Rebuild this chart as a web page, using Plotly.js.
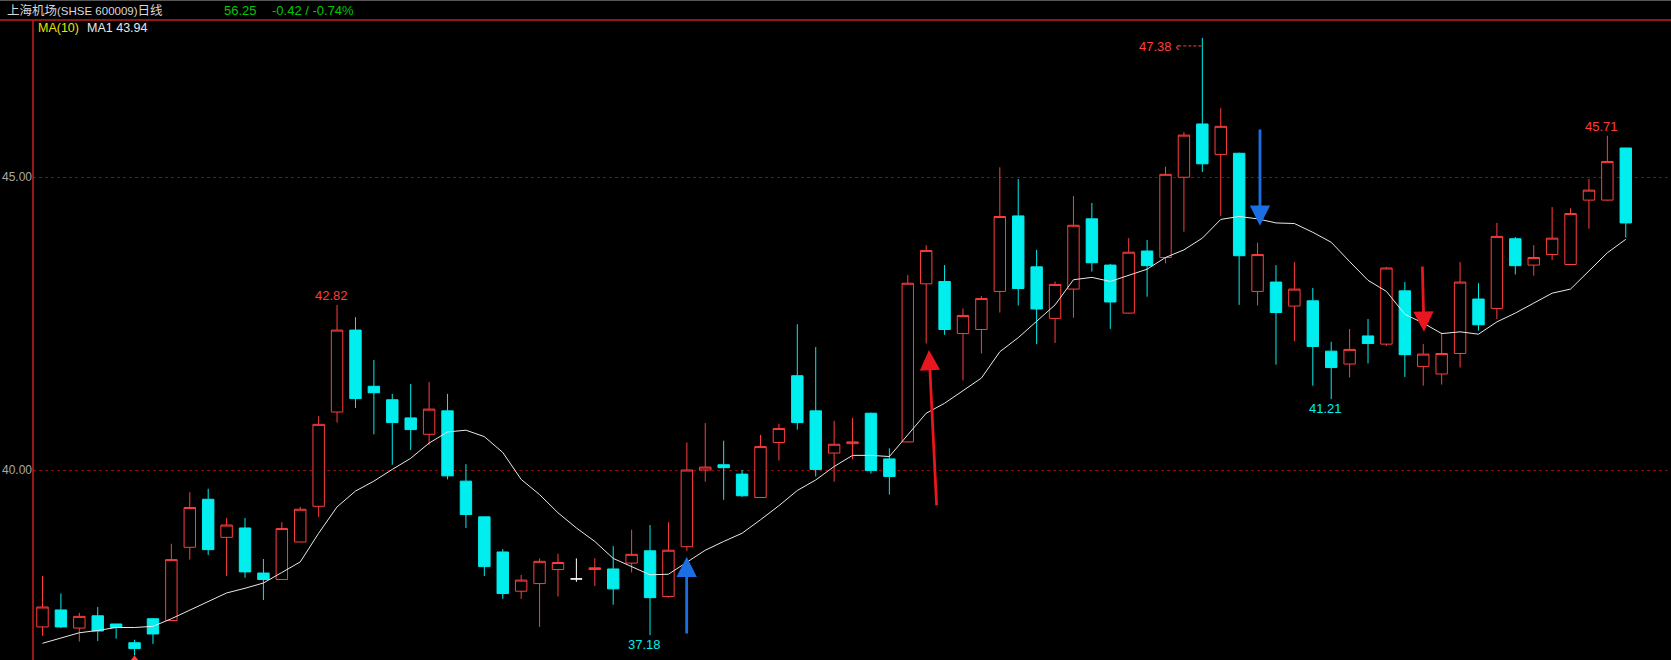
<!DOCTYPE html>
<html>
<head>
<meta charset="utf-8">
<script src="https://cdn.plot.ly/plotly-3.0.1.min.js"></script>
<style>
html,body{margin:0;padding:0;background:#000;overflow:hidden;}
#chart{width:1671px;height:660px;}
</style>
</head>
<body>
<div id="chart"></div>
<script>
// ---- Data (daily candles, 上海机场 600009) ----
const opens  = [37.32,37.61,37.30,37.51,37.37,37.05,37.46,37.43,38.68,39.50,38.85,39.01,38.24,38.13,38.77,39.38,40.99,42.39,41.43,41.20,40.89,40.61,41.01,39.81,39.20,38.60,37.93,38.06,38.30,38.14,38.30,38.31,38.41,38.62,37.84,38.69,40.00,40.09,39.93,39.53,40.47,41.61,41.01,40.29,40.45,40.97,40.19,40.48,43.18,43.22,42.33,42.40,43.05,44.34,43.47,42.59,43.09,44.29,43.50,42.68,43.74,43.63,45.00,45.91,45.39,45.41,43.05,43.21,42.80,42.89,42.03,41.81,42.29,42.15,43.06,41.77,41.64,41.99,42.92,42.76,43.95,43.50,43.68,43.51,44.61,44.61,45.50];
const highs  = [38.19,37.89,37.56,37.66,37.37,37.10,37.47,38.74,39.62,39.68,39.18,39.18,38.48,39.11,39.37,40.92,42.82,42.61,41.88,41.30,41.47,41.50,41.30,40.10,39.20,38.65,38.21,38.49,38.57,38.49,38.49,38.70,38.98,39.06,39.11,40.47,40.80,40.50,40.00,40.60,40.79,42.49,42.10,40.84,40.89,40.98,40.37,43.33,43.84,43.50,42.76,42.97,45.17,44.97,43.76,43.22,44.68,44.56,43.52,43.96,43.93,45.18,45.77,47.38,46.18,45.42,43.88,43.50,43.55,43.11,42.19,42.41,42.58,43.47,43.21,42.15,42.35,43.55,43.19,44.22,43.98,43.84,44.49,44.47,44.97,45.71,45.50];
const lows   = [37.17,37.30,37.07,37.08,37.12,36.83,37.03,37.43,38.47,38.55,38.19,38.16,37.78,38.13,38.77,39.20,40.81,41.06,40.61,40.09,40.34,40.43,39.84,39.01,38.19,37.80,37.80,37.32,37.84,38.09,38.02,37.70,38.25,37.18,37.82,38.62,39.80,39.49,39.54,39.53,40.16,40.69,39.89,39.80,40.18,39.94,39.58,40.47,42.16,42.31,41.53,41.99,42.69,42.81,42.15,42.17,42.60,43.39,42.41,42.67,42.96,43.53,44.07,45.09,44.34,42.82,42.81,41.80,42.20,41.44,41.21,41.58,41.82,42.12,41.59,41.44,41.46,41.75,42.38,42.58,43.34,43.32,43.59,43.51,44.12,44.60,43.97];
const closes = [37.66,37.32,37.50,37.25,37.31,36.95,37.20,38.47,39.36,38.64,39.06,38.26,38.13,39.00,39.33,40.78,42.39,41.22,41.32,40.81,40.69,41.04,39.90,39.24,38.35,37.89,38.12,38.44,38.42,38.14,38.33,37.97,38.56,37.82,38.63,40.00,40.05,40.04,39.56,40.40,40.71,40.81,40.01,40.44,40.48,39.99,39.89,43.19,43.75,42.40,42.64,42.93,44.33,43.10,42.75,43.17,44.18,43.54,42.87,43.72,43.49,45.05,45.72,45.23,45.87,43.66,43.68,42.69,43.09,42.11,41.75,42.06,42.16,43.45,41.97,41.98,41.99,43.21,42.48,43.99,43.49,43.63,43.96,44.38,44.78,45.27,44.22];
const ma10   = [37.04,37.13,37.22,37.26,37.31,37.31,37.33,37.46,37.61,37.75,37.90,37.98,38.07,38.25,38.43,38.92,39.37,39.64,39.81,40.01,40.20,40.46,40.65,40.68,40.57,40.30,39.84,39.58,39.27,39.01,38.78,38.49,38.35,38.21,38.22,38.43,38.63,38.78,38.92,39.15,39.39,39.65,39.83,40.06,40.25,40.25,40.23,40.60,40.97,41.14,41.35,41.57,42.02,42.26,42.54,42.82,43.25,43.29,43.22,43.33,43.43,43.63,43.76,43.96,44.28,44.33,44.29,44.22,44.21,44.06,43.89,43.56,43.24,43.05,42.66,42.51,42.33,42.36,42.32,42.53,42.68,42.85,43.02,43.09,43.40,43.71,43.94];

// labelled extremes (candle index)
const highLabelIdx = [16, 85];
const lowLabelIdx  = [33, 70];
const peakIdx      = 63;
const bottomMarkIdx = 5;

// signal arrows: candle position and price at tail / tip
const sigTailX = [34.99, 48.57, 66.13, 74.95];
const sigTipX  = [34.99, 48.15, 66.13, 75.04];
const sigTailY = [37.18, 39.37, 45.84, 43.50];
const sigTipY  = [38.52, 42.05, 44.17, 42.36];
const sigKind  = ['blue', 'red', 'blue', 'red'];

// header texts
const stockTitle = ['上海机场', '(SHSE 600009)', '日线'];
const lastPrice = '56.25';
const priceChange = '-0.42 / -0.74%';
const maName = 'MA(10)';
const maLabel = 'MA1';

const yTickVals = [40, 45];
const yTickText = ['40.00', '45.00'];

// ---- styling ----
const RED = '#ff3d3d';
const CYAN = '#00eeee';
const FONT = '"Liberation Sans", Arial, "Noto Sans CJK SC", sans-serif';
const W = 1671, H = 660, ML = 33, MT = 20;
const PW = W - ML, PH = H - MT;
const px = x => (x - ML) / PW;
const py = y => (H - y) / PH;

const idx = opens.map((_, i) => i);
const isDoji = i => opens[i] === closes[i];
const bodyIdx = idx.filter(i => !isDoji(i));
const dojiIdx = idx.filter(isDoji);
const sel = (arr, ids) => ids.map(i => arr[i]);

const traces = [
  {
    type: 'candlestick',
    x: bodyIdx, open: sel(opens, bodyIdx), high: sel(highs, bodyIdx),
    low: sel(lows, bodyIdx), close: sel(closes, bodyIdx),
    increasing: {line: {color: RED, width: 1}, fillcolor: '#000000'},
    decreasing: {line: {color: CYAN, width: 1}, fillcolor: CYAN},
    whiskerwidth: 0, hoverinfo: 'skip', showlegend: false
  },
  {
    type: 'candlestick',
    x: dojiIdx, open: sel(opens, dojiIdx), high: sel(highs, dojiIdx),
    low: sel(lows, dojiIdx), close: sel(closes, dojiIdx),
    increasing: {line: {color: '#ffffff', width: 1}, fillcolor: '#000000'},
    decreasing: {line: {color: '#ffffff', width: 1}, fillcolor: '#ffffff'},
    whiskerwidth: 0, hoverinfo: 'skip', showlegend: false
  },
  {
    type: 'scatter', mode: 'lines', x: idx, y: ma10,
    line: {color: '#e8e8e8', width: 1}, hoverinfo: 'skip', showlegend: false
  }
];

const annotations = [];
highLabelIdx.forEach(i => annotations.push({
  x: i, y: highs[i], xref: 'x', yref: 'y', text: highs[i].toFixed(2), showarrow: false,
  xanchor: 'center', yanchor: 'bottom', xshift: -6, yshift: 0,
  font: {family: FONT, size: 13, color: RED}
}));
lowLabelIdx.forEach(i => annotations.push({
  x: i, y: lows[i], xref: 'x', yref: 'y', text: lows[i].toFixed(2), showarrow: false,
  xanchor: 'center', yanchor: 'top', xshift: -6, yshift: 0,
  font: {family: FONT, size: 13, color: CYAN}
}));
annotations.push({
  x: peakIdx, y: highs[peakIdx], xref: 'x', yref: 'y', text: highs[peakIdx].toFixed(2) + ' ‹',
  showarrow: false, xanchor: 'right', yanchor: 'middle', xshift: -21, yshift: -9,
  font: {family: FONT, size: 13, color: RED}
});
sigKind.forEach((k, j) => annotations.push({
  x: sigTipX[j], y: sigTipY[j], ax: sigTailX[j], ay: sigTailY[j],
  xref: 'x', yref: 'y', axref: 'x', ayref: 'y', text: '', showarrow: true,
  arrowhead: 2, arrowsize: 1.45, arrowwidth: 2.8,
  arrowcolor: k === 'blue' ? '#1a6fe3' : '#e8161e', font: {size: 1}
}));

// header
const hdr = (x, y, text, color, size) => ({
  x: px(x), y: py(y), xref: 'paper', yref: 'paper', text, showarrow: false,
  xanchor: 'left', yanchor: 'middle', font: {family: FONT, size, color}
});
annotations.push(hdr(5, 10, stockTitle[0] + '<span style="font-size:11.5px">' + stockTitle[1] + '</span>' + stockTitle[2], '#d8d8d8', 12.5));
annotations.push(hdr(222, 10, lastPrice, '#00c800', 13));
annotations.push(hdr(270, 10, priceChange, '#00c800', 13));
annotations.push(hdr(36, 28, maName, '#e6e600', 12.5));
annotations.push(hdr(85, 28, maLabel + ' ' + ma10[ma10.length - 1].toFixed(2), '#e8e8e8', 12.5));

const shapes = [
  {type: 'line', xref: 'paper', yref: 'paper', x0: px(0), x1: 1, y0: 1, y1: 1, line: {color: '#c81c1c', width: 1.5}},
  {type: 'line', xref: 'paper', yref: 'paper', x0: 0, x1: 0, y0: 0, y1: 1, line: {color: '#c81c1c', width: 1.5}},
  {type: 'line', xref: 'paper', yref: 'paper', x0: px(0), x1: 1, y0: py(0.5), y1: py(0.5), line: {color: '#555555', width: 1}},
  {type: 'line', xref: 'x', yref: 'y', xsizemode: 'pixel', ysizemode: 'pixel',
   xanchor: peakIdx, yanchor: highs[peakIdx], x0: -24, x1: -1, y0: -8, y1: -8,
   line: {color: RED, width: 1, dash: '3px,2px'}},
  {type: 'path', xref: 'x', yref: 'paper', xsizemode: 'pixel', ysizemode: 'pixel',
   xanchor: bottomMarkIdx, yanchor: 0, path: 'M0,4 L-3,0 L3,0 Z',
   fillcolor: RED, line: {color: RED, width: 1}}
];

const layout = {
  width: W, height: H,
  margin: {l: ML, r: 0, t: MT, b: 0, pad: 0},
  paper_bgcolor: '#000000', plot_bgcolor: '#000000',
  showlegend: false, boxgap: 0.38, boxgroupgap: 0, dragmode: false,
  xaxis: {range: [-0.516, 88.457], visible: false, rangeslider: {visible: false}, fixedrange: true},
  yaxis: {
    range: [36.755, 47.686], tickmode: 'array', tickvals: yTickVals, ticktext: yTickText,
    tickfont: {family: FONT, size: 12, color: '#a8a8a8'},
    showgrid: true, gridcolor: '#9a0000', griddash: 'dot', gridwidth: 1,
    zeroline: false, showline: false, ticks: '', fixedrange: true
  },
  annotations, shapes
};

Plotly.newPlot('chart', traces, layout, {staticPlot: true, displayModeBar: false});
</script>
</body>
</html>
